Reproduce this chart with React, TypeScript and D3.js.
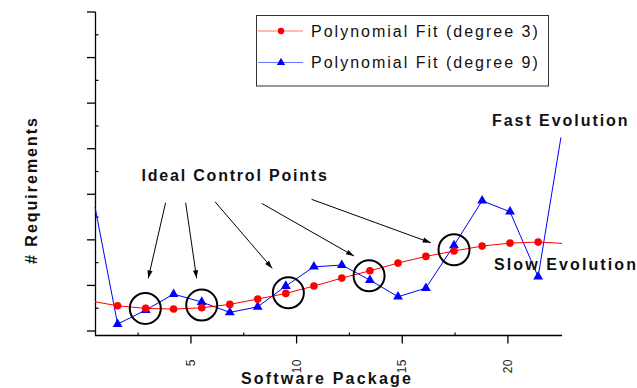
import React from "react";
import * as d3 from "d3";

// ---- data ----
const packageX = [1.53, 2.86, 4.18, 5.51, 6.84, 8.16, 9.49, 10.82, 12.14, 13.47, 14.8, 16.12, 17.45, 18.78, 20.1, 21.43];
const degree3Values = [5.53, 4.96, 4.81, 5.09, 5.84, 7.0, 8.25, 9.86, 11.61, 13.21, 14.9, 16.37, 17.54, 18.63, 19.29, 19.51];
const degree9Values = [1.51, 4.59, 8.1, 6.35, 4.08, 5.31, 9.86, 14.09, 14.46, 11.17, 7.51, 9.42, 18.79, 28.58, 26.16, 11.9];
// curve ends beyond the sampled packages (left and right plot edges)
const degree3Ends = [[0.46, 6.41], [22.56, 19.23]];
const degree9Ends = [[0.46, 27.2], [22.51, 42.5]];

const controlX = [2.84, 5.51, 9.61, 13.43, 17.45];
const controlY = [4.96, 5.68, 8.38, 12.12, 17.82];

const arrowStartX = [3.8, 4.75, 6.14, 8.35, 10.71];
const arrowStartY = [28.14, 28.14, 28.36, 28.0, 28.89];
const arrowEndX = [2.98, 5.27, 8.85, 12.72, 16.35];
const arrowEndY = [11.55, 11.55, 13.74, 16.44, 19.36];

const xMajorTicks = [5, 10, 15, 20];
const xMinorTicks = [2.5, 7.5, 12.5, 17.5];
const yMajorTicks = [0, 10, 20, 30, 40, 50, 60, 70];
const yMinorTicks = [5, 15, 25, 35, 45, 55, 65];

const seriesNames = ["Polynomial Fit (degree 3)", "Polynomial Fit (degree 9)"];
const seriesColors = ["#ff0000", "#0000ff"];

const FONT = "'Liberation Sans', Arial, Helvetica, sans-serif";

export default function App() {
  const x = d3.scaleLinear().domain([0.46, 22.56]).range([95, 562]);
  const y = d3.scaleLinear().domain([-0.88, 70]).range([335, 12]);

  const line = d3
    .line<[number, number]>()
    .x((d) => x(d[0]))
    .y((d) => y(d[1]));

  const red: [number, number][] = [
    degree3Ends[0] as [number, number],
    ...packageX.map((px, i) => [px, degree3Values[i]] as [number, number]),
    degree3Ends[1] as [number, number],
  ];
  const blue: [number, number][] = [
    degree9Ends[0] as [number, number],
    ...packageX.map((px, i) => [px, degree9Values[i]] as [number, number]),
    degree9Ends[1] as [number, number],
  ];

  const tri = d3.symbol().type(d3.symbolTriangle).size(42)();
  const triLegend = d3.symbol().type(d3.symbolTriangle).size(30)();

  const boldText = {
    fontFamily: FONT,
    fontWeight: 700,
    fontSize: 16,
    letterSpacing: 2,
    fill: "#111",
  } as React.CSSProperties;

  return (
    <svg width={637} height={388} style={{ position: "absolute", left: 0, top: 0, background: "#fff" }}>
      <defs>
        <marker
          id="arrowHead"
          viewBox="0 0 10 10"
          refX={10}
          refY={5}
          markerWidth={11}
          markerHeight={8}
          markerUnits="userSpaceOnUse"
          orient="auto"
        >
          <path d="M0,1.8 L10,5 L0,8.2 Z" fill="#000" />
        </marker>
      </defs>
      <rect x={0} y={0} width={637} height={388} fill="#fff" />

      {/* y axis */}
      <line x1={95.5} x2={95.5} y1={y(70)} y2={335} stroke="#000" strokeWidth={1.3} />
      {yMajorTicks.map((t) => (
        <line key={"ym" + t} x1={87} x2={95.5} y1={y(t)} y2={y(t)} stroke="#000" strokeWidth={1.3} />
      ))}
      {yMinorTicks.map((t) => (
        <line key={"yn" + t} x1={95.5} x2={98.5} y1={y(t)} y2={y(t)} stroke="#000" strokeWidth={1.2} />
      ))}

      {/* x axis */}
      <line x1={95} x2={562} y1={335.5} y2={335.5} stroke="#000" strokeWidth={1.3} />
      {xMajorTicks.map((t) => (
        <line key={"xm" + t} x1={x(t)} x2={x(t)} y1={335.5} y2={343.5} stroke="#000" strokeWidth={1.3} />
      ))}
      {xMinorTicks.map((t) => (
        <line key={"xn" + t} x1={x(t)} x2={x(t)} y1={332.5} y2={335.5} stroke="#000" strokeWidth={1.2} />
      ))}
      {xMajorTicks.map((t) => (
        <text
          key={"xl" + t}
          transform={`translate(${x(t)},359) rotate(-90)`}
          textAnchor="end"
          dy="0.33em"
          style={{ fontFamily: FONT, fontSize: 12, letterSpacing: 0.5, fill: "#222" }}
        >
          {t}
        </text>
      ))}

      {/* axis titles */}
      <text x={327} y={384} textAnchor="middle" style={{ ...boldText, letterSpacing: 2.2 }}>
        Software Package
      </text>
      <text transform="translate(37,190) rotate(-90)" textAnchor="middle" style={boldText}>
        # Requirements
      </text>

      {/* series */}
      <path d={line(blue) || ""} fill="none" stroke={seriesColors[1]} strokeWidth={1} />
      {packageX.map((px, i) => (
        <path
          key={"b" + i}
          d={tri || ""}
          transform={`translate(${x(px)},${y(degree9Values[i])})`}
          fill={seriesColors[1]}
        />
      ))}
      <path d={line(red) || ""} fill="none" stroke={seriesColors[0]} strokeWidth={1} />
      {packageX.map((px, i) => (
        <circle key={"r" + i} cx={x(px)} cy={y(degree3Values[i])} r={3.8} fill={seriesColors[0]} />
      ))}

      {/* control point circles */}
      {controlX.map((cx, i) => (
        <circle key={"c" + i} cx={x(cx)} cy={y(controlY[i])} r={15.5} fill="none" stroke="#000" strokeWidth={2} />
      ))}

      {/* arrows */}
      {arrowStartX.map((sx, i) => (
        <line
          key={"a" + i}
          x1={x(sx)}
          y1={y(arrowStartY[i])}
          x2={x(arrowEndX[i])}
          y2={y(arrowEndY[i])}
          stroke="#000"
          strokeWidth={1}
          markerEnd="url(#arrowHead)"
        />
      ))}

      {/* annotations */}
      <text x={141.5} y={180.5} style={{ ...boldText, letterSpacing: 1.8 }}>
        Ideal Control Points
      </text>
      <text x={492} y={125.5} style={{ ...boldText, letterSpacing: 1.95 }}>
        Fast Evolution
      </text>
      <text x={494} y={270} style={{ ...boldText, letterSpacing: 2.1 }}>
        Slow Evolution
      </text>

      {/* legend */}
      <rect x={256.5} y={15.5} width={292} height={70.5} fill="#fff" stroke="#333" strokeWidth={1} />
      {seriesNames.map((name, i) => {
        const ly = 31 + i * 31.5;
        return (
          <g key={"lg" + i}>
            <line x1={258} x2={303} y1={ly} y2={ly} stroke={seriesColors[i]} strokeWidth={1} strokeOpacity={0.55} />
            {i === 0 ? (
              <circle cx={281} cy={ly} r={3.2} fill={seriesColors[i]} />
            ) : (
              <path d={triLegend || ""} transform={`translate(281,${ly})`} fill={seriesColors[i]} />
            )}
            <text x={311} y={ly + 5.5} style={{ fontFamily: FONT, fontSize: 16, letterSpacing: 2.0, fill: "#111" }}>
              {name}
            </text>
          </g>
        );
      })}
    </svg>
  );
}
